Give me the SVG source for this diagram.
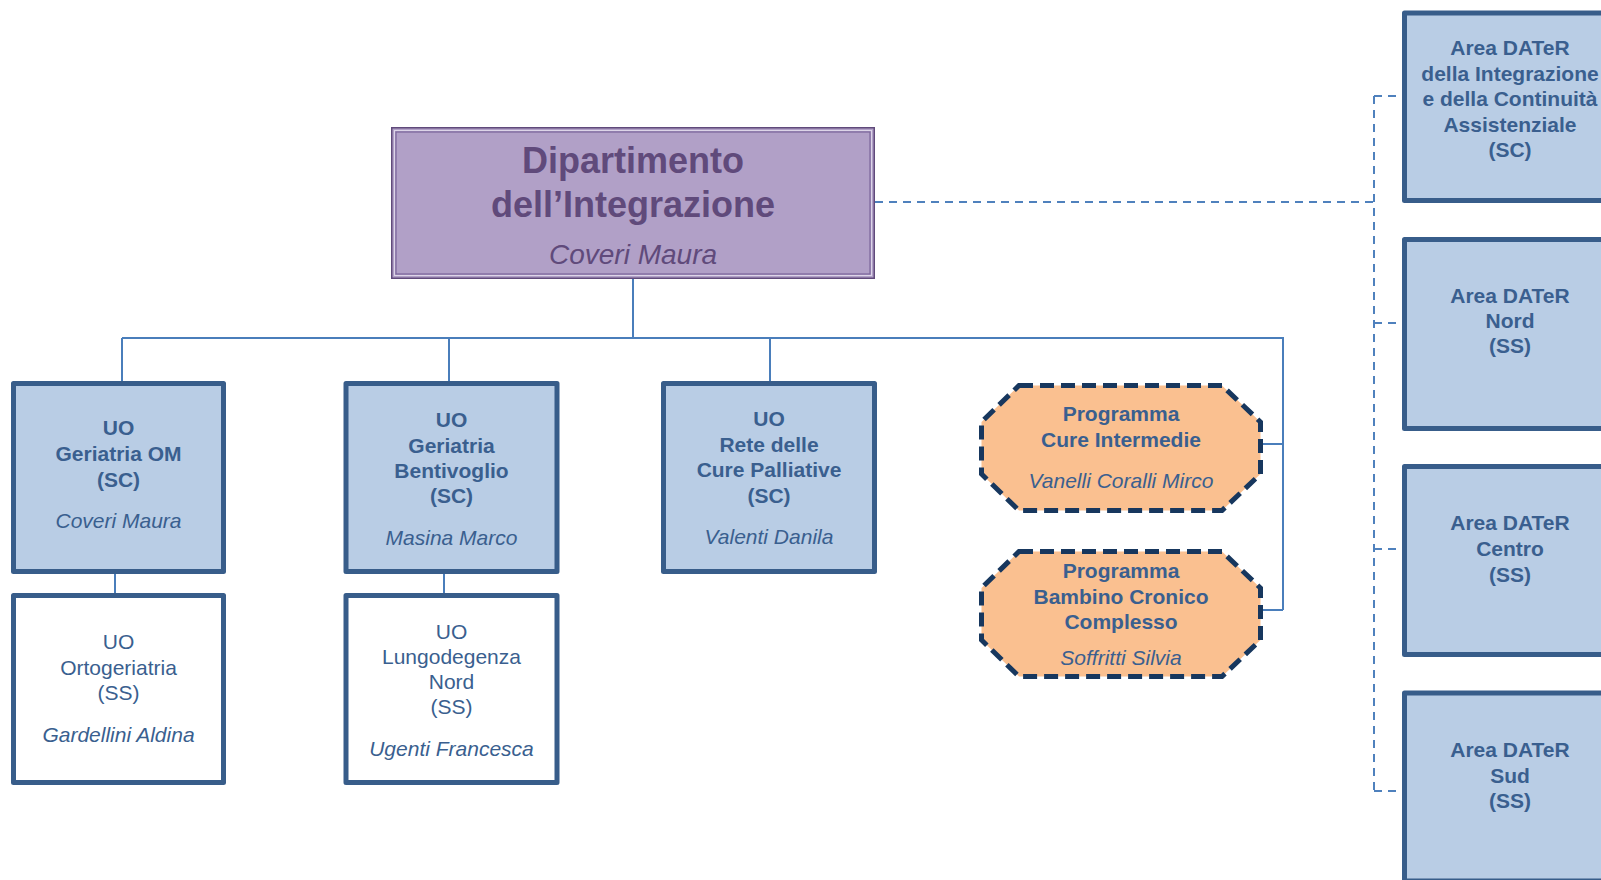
<svg xmlns="http://www.w3.org/2000/svg" width="1601" height="880" viewBox="0 0 1601 880">
<style>
text{font-family:"Liberation Sans",Arial,sans-serif;text-anchor:middle;fill:#3a5f8f;font-size:21px}
.b{font-weight:bold}
.i{font-style:italic}
.box{fill:#b9cde5;stroke:#385d8a;stroke-width:5;stroke-linejoin:round}
.wbox{fill:#ffffff;stroke:#385d8a;stroke-width:5;stroke-linejoin:round}
.oct{fill:#fac090;stroke:#17375e;stroke-width:5;stroke-dasharray:14 7}
.ln{fill:none;stroke:#4a7ebb;stroke-width:2}
.dl{fill:none;stroke:#4f81bd;stroke-width:2;stroke-dasharray:8 6}
text.mt{fill:#604a7b;font-size:36px}
text.mn{fill:#604a7b;font-size:28px}
</style>
<rect width="1601" height="880" fill="#ffffff"/>
<g id="connectors">
<path class="ln" d="M633 279V338M122 338H1283V610M122 338V381M449 338V381M770 338V381M1263 444H1283M1263 610H1283M115 574V593M444 574V593"/>
<path class="dl" d="M875 202H1374M1374 96V791M1374 96H1402M1374 323H1402M1374 549H1402M1374 791H1402"/>
</g>
<g id="dipartimento">
<rect x="391.75" y="127.75" width="482.5" height="150.5" fill="#b1a0c7" stroke="#604a7b" stroke-width="1.5"/>
<rect x="394.5" y="130.5" width="477" height="145" fill="none" stroke="#ddd5e8" stroke-width="1"/>
<rect x="396" y="132" width="474" height="142" fill="none" stroke="#7a659a" stroke-width="1.2"/>
<text x="633" y="173" class="b mt">Dipartimento</text>
<text x="633" y="216.5" class="b mt">dell’Integrazione</text>
<text x="633" y="264" class="i mn">Coveri Maura</text>
</g>
<g id="geriatria-om">
<rect class="box" x="13.5" y="383.5" width="210" height="188"/>
<text x="118.5" y="435" class="b">UO</text>
<text x="118.5" y="461" class="b">Geriatria OM</text>
<text x="118.5" y="486.5" class="b">(SC)</text>
<text x="118.5" y="528" class="i">Coveri Maura</text>
</g>
<g id="ortogeriatria">
<rect class="wbox" x="13.5" y="595.5" width="210" height="187"/>
<text x="118.5" y="649">UO</text>
<text x="118.5" y="675">Ortogeriatria</text>
<text x="118.5" y="700">(SS)</text>
<text x="118.5" y="742" class="i">Gardellini  Aldina</text>
</g>
<g id="geriatria-bentivoglio">
<rect class="box" x="346" y="383.5" width="211" height="188"/>
<text x="451.5" y="426.5" class="b">UO</text>
<text x="451.5" y="452.5" class="b">Geriatria</text>
<text x="451.5" y="477.5" class="b">Bentivoglio</text>
<text x="451.5" y="503" class="b">(SC)</text>
<text x="451.5" y="545" class="i">Masina Marco</text>
</g>
<g id="lungodegenza">
<rect class="wbox" x="346" y="595.5" width="211" height="187"/>
<text x="451.5" y="638.5">UO</text>
<text x="451.5" y="663.5">Lungodegenza</text>
<text x="451.5" y="689">Nord</text>
<text x="451.5" y="714">(SS)</text>
<text x="451.5" y="756" class="i">Ugenti Francesca</text>
</g>
<g id="cure-palliative">
<rect class="box" x="663.5" y="383.5" width="211" height="188"/>
<text x="769" y="426" class="b">UO</text>
<text x="769" y="451.5" class="b">Rete delle</text>
<text x="769" y="476.5" class="b">Cure Palliative</text>
<text x="769" y="503" class="b">(SC)</text>
<text x="769" y="544" class="i">Valenti  Danila</text>
</g>
<g id="cure-intermedie">
<polygon class="oct" points="1019,385.5 1222,385.5 1260.5,422 1260.5,474 1222,510.5 1019,510.5 981.5,474 981.5,422"/>
<text x="1121" y="420.5" class="b">Programma</text>
<text x="1121" y="446.5" class="b">Cure Intermedie</text>
<text x="1121" y="488" class="i">Vanelli  Coralli  Mirco</text>
</g>
<g id="bambino-cronico">
<polygon class="oct" points="1019,551.5 1222,551.5 1260.5,588 1260.5,640 1222,676.5 1019,676.5 981.5,640 981.5,588"/>
<text x="1121" y="578" class="b">Programma</text>
<text x="1121" y="604" class="b">Bambino Cronico</text>
<text x="1121" y="629" class="b">Complesso</text>
<text x="1121" y="665" class="i">Soffritti  Silvia</text>
</g>
<g id="dater-integrazione">
<rect class="box" x="1404.5" y="13" width="211" height="187.5"/>
<text x="1510" y="54.5" class="b">Area DATeR</text>
<text x="1510" y="81" class="b"> della Integrazione</text>
<text x="1510" y="106" class="b">e della Continuità</text>
<text x="1510" y="131.5" class="b">Assistenziale</text>
<text x="1510" y="156.5" class="b">(SC)</text>
</g>
<g id="dater-nord">
<rect class="box" x="1404.5" y="239.5" width="211" height="189"/>
<text x="1510" y="302.5" class="b">Area DATeR</text>
<text x="1510" y="328" class="b">Nord</text>
<text x="1510" y="353" class="b">(SS)</text>
</g>
<g id="dater-centro">
<rect class="box" x="1404.5" y="466.5" width="211" height="188"/>
<text x="1510" y="530" class="b">Area DATeR</text>
<text x="1510" y="556" class="b">Centro</text>
<text x="1510" y="581.5" class="b">(SS)</text>
</g>
<g id="dater-sud">
<rect class="box" x="1404.5" y="693" width="211" height="188"/>
<text x="1510" y="756.5" class="b">Area DATeR</text>
<text x="1510" y="782.5" class="b">Sud</text>
<text x="1510" y="808" class="b">(SS)</text>
</g>
</svg>
